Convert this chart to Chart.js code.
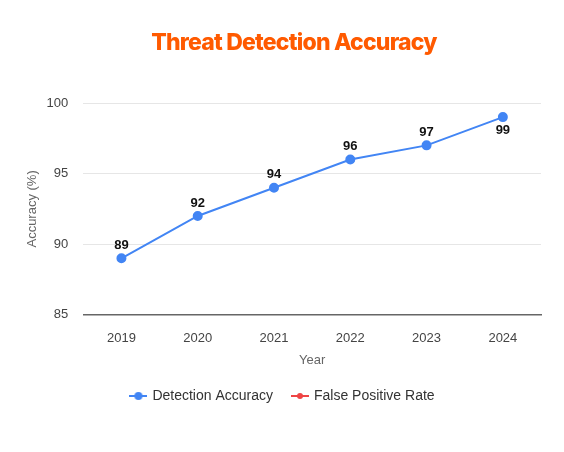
<!DOCTYPE html>
<html>
<head>
<meta charset="utf-8">
<script src="https://cdn.jsdelivr.net/npm/chart.js@4/dist/chart.umd.min.js"></script>
<style>
  html,body{margin:0;padding:0;background:#fff;}
  #wrap{width:564px;height:452px;}
</style>
</head>
<body>
<div id="wrap"><canvas id="chart"></canvas></div>
<script>
var chartTitle='Threat Detection Accuracy';
var years=['2019','2020','2021','2022','2023','2024'];
var detectionAccuracy=[89,92,94,96,97,99];
var falsePositiveRate=[null,null,null,null,null,null]; // no marks visible in the picture
var yTicks=[85,90,95,100];

// legend marker: short line with a dot in the middle
var legendMark=function(color,dot){
  var c=document.createElement('canvas');
  c.width=18;c.height=10;
  var g=c.getContext('2d');
  g.strokeStyle=color;g.lineWidth=2;
  g.beginPath();g.moveTo(0,5);g.lineTo(18,5);g.stroke();
  g.fillStyle=color;
  g.beginPath();g.arc(9,5,dot,0,Math.PI*2);g.fill();
  return c;
};

// title drawn a bit right of centre, like the original
var topTitle={
  id:'topTitle',
  afterDraw:function(chart){
    var ctx=chart.ctx;
    ctx.save();
    ctx.font='800 23px Inter, "Liberation Sans", sans-serif';
    if('letterSpacing' in ctx)ctx.letterSpacing='-0.8px';
    ctx.fillStyle='#ff5a00';
    ctx.textAlign='center';
    ctx.textBaseline='middle';
    ctx.fillText(chartTitle,chart.width/2+12,43);
    ctx.restore();
  }
};

var valueLabels={
  id:'valueLabels',
  afterDatasetsDraw:function(chart){
    var ctx=chart.ctx,area=chart.chartArea;
    ctx.save();
    ctx.font='bold 13px "Liberation Sans", Arial, sans-serif';
    ctx.fillStyle='#111';
    ctx.textAlign='center';
    ctx.textBaseline='middle';
    var meta=chart.getDatasetMeta(0);
    meta.data.forEach(function(pt,i){
      var v=chart.data.datasets[0].data[i];
      if(v==null)return;
      var y=pt.y-13;
      if(y<area.top+6)y=pt.y+13;
      ctx.fillText(String(v),pt.x,y);
    });
    ctx.restore();
  }
};

Chart.defaults.font.family='"Liberation Sans", Arial, sans-serif';
Chart.defaults.color='#555';

var ctx=document.getElementById('chart').getContext('2d');
var chart=new Chart(ctx,{
  type:'line',
  data:{
    labels:years,
    datasets:[{
      label:'Detection Accuracy',
      data:detectionAccuracy,
      borderColor:'#4285f4',
      backgroundColor:'#4285f4',
      borderWidth:2,
      pointRadius:4,
      pointHoverRadius:4,
      pointStyle:'circle',
      tension:0
    },{
      label:'False Positive Rate',
      data:falsePositiveRate,
      borderColor:'#ef4444',
      backgroundColor:'#ef4444',
      borderWidth:2,
      pointRadius:4,
      tension:0
    }]
  },
  options:{
    responsive:true,
    maintainAspectRatio:false,
    animation:false,
    layout:{padding:{left:25,right:23,top:103,bottom:39}},
    plugins:{
      title:{display:false},
      legend:{
        position:'bottom',
        labels:{
          usePointStyle:true,
          pointStyleWidth:14,
          color:'#333',
          font:{size:14},
          padding:20,
          generateLabels:function(ch){
            return ch.data.datasets.map(function(ds,i){
              return {
                text:ds.label,
                pointStyle:legendMark(ds.borderColor,i===0?4:3),
                fillStyle:ds.borderColor,
                strokeStyle:ds.borderColor,
                lineWidth:0,
                fontColor:'#333',
                datasetIndex:i,
                hidden:false
              };
            });
          }
        }
      },
      tooltip:{enabled:false}
    },
    scales:{
      x:{
        offset:true,
        grid:{display:false,drawTicks:false},
        border:{display:true,color:'#666',width:1.5},
        ticks:{color:'#444',font:{size:13},padding:16},
        title:{display:true,text:'Year',color:'#666',font:{size:13},padding:{top:-10,bottom:1}}
      },
      y:{
        min:85,max:100,
        afterBuildTicks:function(axis){
          axis.ticks=yTicks.map(function(v){return {value:v};});
        },
        grid:{color:'#e6e6e6',drawTicks:false},
        border:{display:false},
        ticks:{color:'#444',font:{size:13},padding:15},
        title:{display:true,text:'Accuracy (%)',color:'#666',font:{size:13},padding:{top:0,bottom:-9}}
      }
    }
  },
  plugins:[valueLabels,topTitle]
});
</script>
</body>
</html>
